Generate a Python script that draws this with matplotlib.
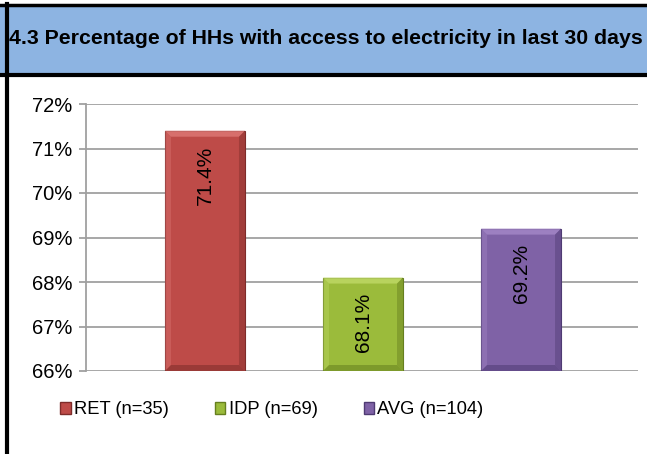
import matplotlib
matplotlib.use("Agg")
import matplotlib.pyplot as plt
from matplotlib.patches import Rectangle, Polygon
from matplotlib.lines import Line2D

plt.rcParams['font.family'] = ['Liberation Sans', 'DejaVu Sans']

title = "4.3 Percentage of HHs with access to electricity in last 30 days"
series = ["RET (n=35)", "IDP (n=69)", "AVG (n=104)"]
values = [71.4, 68.1, 69.2]
colors = ["#BE4B48", "#9BBB3B", "#7F62A6"]
light_colors = ["#E07C79", "#C3DC6A", "#A88BCB"]
dark_colors = ["#7E2C2A", "#667F1F", "#4F3B73"]
yticks = [66, 67, 68, 69, 70, 71, 72]

W, H = 647, 454
fig = plt.figure(figsize=(W / 100, H / 100), dpi=100)

# title band
fig.patches.append(Rectangle((0, (H - 75) / H), 1, 70 / H, transform=fig.transFigure,
                             facecolor="#8DB4E2", edgecolor="none", zorder=0))
fig.add_artist(Line2D([0, 1], [(H - 5) / H] * 2, transform=fig.transFigure, color="black", lw=2.5))
fig.add_artist(Line2D([0, 1], [(H - 75) / H] * 2, transform=fig.transFigure, color="black", lw=3))
fig.add_artist(Line2D([6.5 / W] * 2, [0, (H - 4) / H], transform=fig.transFigure, color="black", lw=3))
fig.text(9 / W, (H - 38) / H, title, fontsize=15.35, fontweight="bold", ha="left", va="center")

ax = fig.add_axes([86 / W, 83 / H, 552 / W, 267 / H])
x = list(range(len(series)))
bars = ax.bar(x, values, width=0.506, color=colors, edgecolor=dark_colors, linewidth=0.8,
              zorder=3)
ax.set_ylim(66, 72)
ax.set_xlim(-0.753, 2.74)
ax.set_yticks(yticks)
ax.set_yticklabels([f"{t}%" for t in yticks], fontsize=14.5)
ax.set_xticks([])
ax.yaxis.grid(True, color="#A0A0A0", lw=1.3, zorder=0)
for s in ["top", "right", "bottom"]:
    ax.spines[s].set_visible(False)
ax.spines["left"].set_color("#A0A0A0")
ax.spines["left"].set_linewidth(1.3)
ax.tick_params(axis="y", length=5, color="#A0A0A0", width=1.3, pad=5)

# bevel effect derived from each bar's rendered extent
fig.canvas.draw()
inv = fig.transFigure.inverted()
bev = 6
for b, lc, dc in zip(bars.patches, light_colors, dark_colors):
    ext = b.get_window_extent()
    x0, x1 = ext.x0, ext.x1
    y1 = ext.y1
    y0 = max(ext.y0, ax.get_window_extent().y0)
    top = [(x0, y1), (x1, y1), (x1 - bev, y1 - bev), (x0 + bev, y1 - bev)]
    left = [(x0, y1), (x0 + bev, y1 - bev), (x0 + bev, y0 + bev), (x0, y0)]
    right = [(x1, y1), (x1 - bev, y1 - bev), (x1 - bev, y0 + bev), (x1, y0)]
    bottom = [(x0, y0), (x0 + bev, y0 + bev), (x1 - bev, y0 + bev), (x1, y0)]
    for pts, c, a in [(top, lc, 0.75), (left, lc, 0.35), (right, dc, 0.45), (bottom, dc, 0.55)]:
        fpts = [inv.transform(p) for p in pts]
        fig.patches.append(Polygon(fpts, closed=True, transform=fig.transFigure,
                                   facecolor=c, edgecolor="none", alpha=a, zorder=4))

for xi, v in zip(x, values):
    ax.annotate(f"{v:.1f}%", (xi, v), xytext=(0, -11), textcoords="offset points",
                rotation=90, ha="center", va="top", fontsize=15, zorder=5)

handles = [Rectangle((0, 0), 1, 1, facecolor=c, edgecolor=e) for c, e in zip(colors, dark_colors)]
fig.legend(handles, series, loc="center", bbox_to_anchor=(272 / W, (H - 410) / H),
           ncol=3, frameon=False, fontsize=13.2, handlelength=0.55, handleheight=0.6,
           handletextpad=0.2, columnspacing=2.5, borderpad=0, borderaxespad=0)

fig.savefig("out.png", dpi=100)
